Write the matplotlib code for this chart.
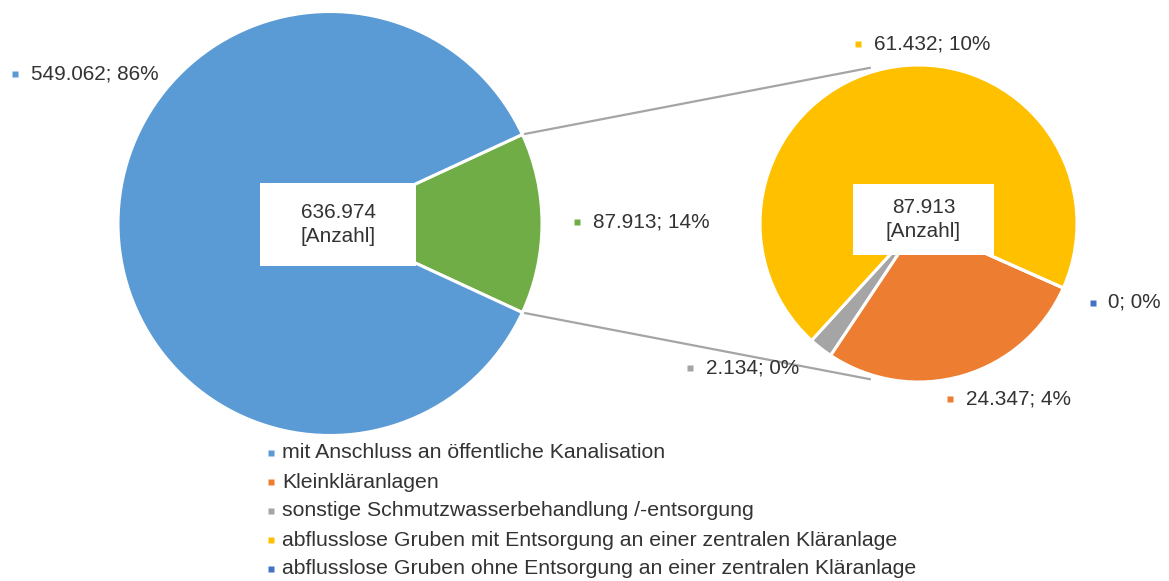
#!/usr/bin/env python3

import numpy as np
import matplotlib.pyplot as plt
from matplotlib.patches import Rectangle


# Daten (Anzahl)
kategorien = [
    "mit Anschluss an öffentliche Kanalisation",
    "Kleinkläranlagen",
    "sonstige Schmutzwasserbehandlung /-entsorgung",
    "abflusslose Gruben mit Entsorgung an einer zentralen Kläranlage",
    "abflusslose Gruben ohne Entsorgung an einer zentralen Kläranlage",
]
anzahl = [549062, 24347, 2134, 61432, 0]
farben = ["#5B9BD5", "#ED7D31", "#A5A5A5", "#FFC000", "#4472C4"]
farbe_rest = "#70AD47"
gesamt_angabe = 636974          # Summe laut Quelle (gerundete Einzelwerte)
einheit = "[Anzahl]"


W, H = 1169, 581
textfarbe = "#333333"
fs_label = 14.95
fs_legende = 15.3
plt.rcParams["font.family"] = ["Liberation Sans", "DejaVu Sans"]


def fmt(v):
    # deutsche Tausendertrennung
    return f"{v:,}".replace(",", ".")


def py(y):
    # Pixel von oben -> Datenkoordinate von unten
    return H - y


gesamt = sum(anzahl)
rest = sum(anzahl[1:])
prozent = [round(v / gesamt * 100) for v in anzahl]
prozent_rest = round(rest / gesamt * 100)

fig = plt.figure(figsize=(W / 100, H / 100), dpi=100)
ax = fig.add_axes([0, 0, 1, 1])

# Hauptkreis
c1 = (330, py(223.5))
r1 = 212
halb = 360 * rest / gesamt / 2
ax.pie([rest, anzahl[0]], colors=[farbe_rest, farben[0]], startangle=halb,
       counterclock=False, center=c1, radius=r1,
       wedgeprops={"edgecolor": "white", "linewidth": 2.2})

# Sekundärkreis
c2 = (918.5, py(223.5))
r2 = 158.5
ax.pie(anzahl[1:], colors=farben[1:], startangle=-24, counterclock=False,
       center=c2, radius=r2,
       wedgeprops={"edgecolor": "white", "linewidth": 2.2})

# Verbindungslinien
for s in (1, -1):
    a1 = np.radians(s * halb)
    a2 = np.radians(s * 107)
    x0 = c1[0] + r1 * np.cos(a1)
    y0 = c1[1] + r1 * np.sin(a1)
    x1 = c2[0] + 163 * np.cos(a2)
    y1 = c2[1] + 163 * np.sin(a2)
    ax.plot([x0, x1], [y0, y1], color="#A5A5A5", lw=1.6, zorder=0.5,
            solid_capstyle="butt")

# Summenfelder in der Mitte
for (x, y, w, h), wert in [((260, 183, 156, 83), gesamt_angabe), ((853, 184, 141, 71), rest)]:
    ax.add_patch(Rectangle((x, py(y + h)), w, h, facecolor="white",
                           edgecolor="none", zorder=3))
    ax.text(x + w / 2, py(y + h / 2) + 12, fmt(wert), ha="center", va="center",
            fontsize=fs_label, color=textfarbe, zorder=4)
    ax.text(x + w / 2, py(y + h / 2) - 12, einheit, ha="center", va="center",
            fontsize=fs_label, color=textfarbe, zorder=4)

# Datenbeschriftungen
label_pos = [(15, 73.5), (950, 399), (689.5, 368), (857.5, 43.5), (1092.5, 302.5)]
werte = list(zip(anzahl, prozent, farben))
for (mx, my), (v, p, col) in zip(label_pos, werte):
    ax.plot(mx, py(my), marker="s", ms=4.8, color=col, mec="none")
    ax.text(mx + 16, py(my), f"{fmt(v)}; {p}%", ha="left", va="center",
            fontsize=fs_label, color=textfarbe)
ax.plot(577, py(222), marker="s", ms=4.8, color=farbe_rest, mec="none")
ax.text(593, py(222), f"{fmt(rest)}; {prozent_rest}%", ha="left",
        va="center", fontsize=fs_label, color=textfarbe)

# Legende
for i, (name, col) in enumerate(zip(kategorien, farben)):
    y = 453 + 29 * i
    ax.plot(270.5, py(y), marker="s", ms=4.8, color=col, mec="none")
    ax.text(282, py(y), name, ha="left", va="center", fontsize=fs_legende,
            color=textfarbe)

ax.set_xlim(0, W)
ax.set_ylim(0, H)
ax.set_aspect("equal")
ax.axis("off")

plt.savefig("out.png", dpi=100, facecolor="white")
